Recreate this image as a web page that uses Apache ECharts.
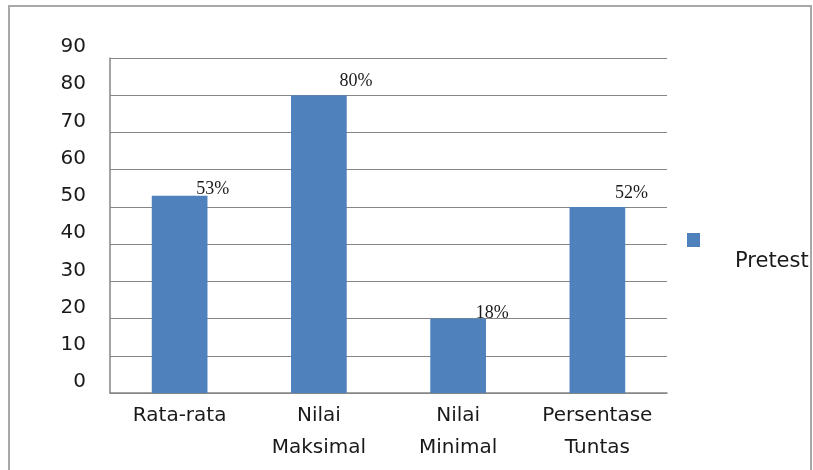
<!DOCTYPE html>
<html>
<head>
<meta charset="utf-8">
<script src="https://cdn.jsdelivr.net/npm/echarts@6/dist/echarts.min.js"></script>
<style>
html,body{margin:0;padding:0;background:#fff;}
#chart{width:813px;height:470px;}
</style>
</head>
<body>
<div id="chart"></div>
<script>
const categories = ['Rata-rata', 'Nilai\nMaksimal', 'Nilai\nMinimal', 'Persentase\nTuntas'];
const pretestValues = [53, 80, 20, 50];
const pretestLabels = ['53%', '80%', '18%', '52%'];
const seriesName = 'Pretest';

const labelOffsets = [[33, 3], [37, -5], [34, 4], [34, -5]];

const chart = echarts.init(document.getElementById('chart'));
const axisFont = 'DejaVu Sans';
chart.setOption({
  animation: false,
  backgroundColor: '#fff',
  graphic: [{
    type: 'rect',
    shape: { x: 9, y: 6, width: 802, height: 480 },
    style: { fill: 'none', stroke: '#a8a8a8', lineWidth: 2 },
    silent: true
  }],
  grid: { left: 110, right: 146, top: 58, bottom: 77, containLabel: false },
  legend: {
    data: [seriesName],
    left: 682,
    top: 228,
    icon: 'rect',
    itemWidth: 13,
    itemHeight: 14,
    formatter: name => '{p|' + name + '}',
    textStyle: {
      fontFamily: axisFont, fontSize: 21, color: '#1a1a1a',
      rich: { p: { fontFamily: axisFont, fontSize: 21, color: '#1a1a1a', padding: [44, 0, 0, 30] } }
    }
  },
  xAxis: {
    type: 'category',
    data: categories,
    axisLine: { lineStyle: { color: '#868686', width: 1.5 } },
    axisTick: { show: false },
    axisLabel: { fontFamily: axisFont, fontSize: 20, color: '#1a1a1a', lineHeight: 32, margin: 7, interval: 0 }
  },
  yAxis: {
    type: 'value',
    min: 0, max: 90, interval: 10,
    axisLine: { show: true, lineStyle: { color: '#868686', width: 1.5 } },
    axisTick: { show: false },
    splitLine: { lineStyle: { color: '#868686', width: 1.2 } },
    axisLabel: { fontFamily: axisFont, fontSize: 20, color: '#1a1a1a', margin: 24, verticalAlign: 'bottom', padding: [0, 0, 1, 0] }
  },
  series: [{
    name: seriesName,
    type: 'bar',
    barWidth: '40%',
    itemStyle: { color: '#4F81BD' },
    data: pretestValues.map((v, i) => ({
      value: v,
      label: {
        show: true,
        position: 'top',
        distance: 0,
        offset: labelOffsets[i],
        formatter: () => pretestLabels[i],
        fontFamily: 'Liberation Serif',
        fontSize: 18,
        color: '#1a1a1a'
      }
    }))
  }]
});
</script>
</body>
</html>
